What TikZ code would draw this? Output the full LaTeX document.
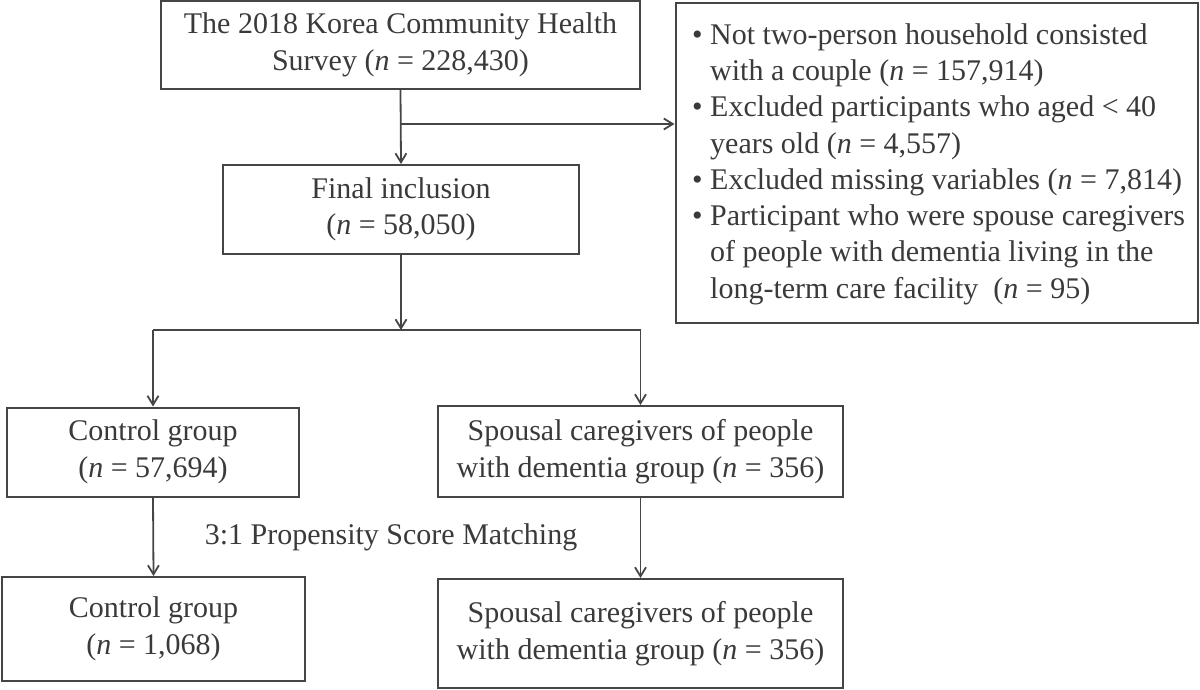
\documentclass[tikz,border=0pt]{standalone}
\usepackage{fontspec}
\setmainfont{Liberation Serif}
\usetikzlibrary{arrows.meta}
\definecolor{ink}{HTML}{3A3A3A}
\definecolor{edge}{HTML}{454545}
\newcommand{\bul}{\makebox[18pt][l]{\textbullet}}
\newcommand{\ind}{\hspace*{18pt}}
\begin{document}
\begin{tikzpicture}[x=1pt,y=-1pt,
  txt/.style={text=ink, inner sep=0pt, font=\fontsize{30}{36.5}\selectfont},
  box/.style={txt, draw=edge, line width=2pt, align=center},
  conn/.style={draw=edge, line width=1.8pt},
  arr/.style={conn, -{Straight Barb[length=9pt,width=11pt,line width=1.8pt]}}]
\useasboundingbox (0,0) rectangle (1200,690);
\node[box, minimum width=479pt, minimum height=88pt] (top) at (400.5,45)
  {The 2018 Korea Community Health\\Survey (\textit{n} = 228,430)};
\node[box, minimum width=356.5pt, minimum height=89pt] (final) at (401,209.5)
  {Final inclusion\\(\textit{n} = 58,050)};
\node[box, minimum width=292pt, minimum height=89pt] (ctrl) at (153,452)
  {Control group\\(\textit{n} = 57,694)};
\node[box, minimum width=405pt, minimum height=91pt] (sp) at (640.5,451.5)
  {Spousal caregivers of people\\with dementia group (\textit{n} = 356)};
\node[box, minimum width=303pt, minimum height=104pt] (ctrl2) at (153.5,629)
  {Control group\\(\textit{n} = 1,068)};
\node[box, minimum width=405pt, minimum height=109pt] (sp2) at (640.5,633.5)
  {Spousal caregivers of people\\with dementia group (\textit{n} = 356)};
\node[draw=edge, line width=2pt, minimum width=522.5pt, minimum height=320pt, inner sep=0pt] (excl) at (936.75,163) {};
\node[txt, align=left, font=\fontsize{30}{36.3}\selectfont, anchor=west] (excltext) at (692,164)
  {\bul Not two-person household consisted\\
   \ind with a couple (\textit{n} = 157,914)\\
   \bul Excluded participants who aged < 40\\
   \ind years old (\textit{n} = 4,557)\\
   \bul Excluded missing variables (\textit{n} = 7,814)\\
   \bul Participant who were spouse caregivers\\
   \ind of people with dementia living in the\\
   \ind long-term care facility~ (\textit{n} = 95)};
\node[txt] (psm) at (391,537) {3:1 Propensity Score Matching};
\coordinate (b1) at (top.south |- 0,124);
\coordinate (b2) at (final.south |- 0,330);
\coordinate (bl) at (ctrl.north |- b2);
\coordinate (br) at (sp.north |- b2);
\draw[arr] (top.south) -- (final.north);
\draw[arr] (b1) -- (excl.west |- b1);
\draw[arr] (final.south) -- (b2);
\draw[conn] (bl) -- (br);
\draw[arr] (bl) -- (ctrl.north);
\draw[arr] (br) -- (sp.north);
\draw[arr] (ctrl.south) -- (ctrl2.north);
\draw[arr] (sp.south) -- (sp2.north);
\end{tikzpicture}
\end{document}
